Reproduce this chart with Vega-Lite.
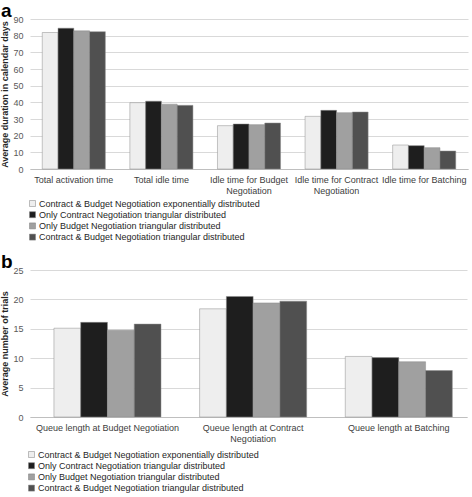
{
  "$schema": "https://vega.github.io/schema/vega-lite/v6.json",
  "padding": {"left": 0, "top": 2, "right": 2, "bottom": 0},
  "background": "white",
  "datasets": {
    "a": [
      {"category": "Total activation time", "scenario": "Contract & Budget Negotiation exponentially distributed", "value": 81.9},
      {"category": "Total activation time", "scenario": "Only Contract Negotiation triangular distributed", "value": 84.5},
      {"category": "Total activation time", "scenario": "Only Budget Negotiation triangular distributed", "value": 82.9},
      {"category": "Total activation time", "scenario": "Contract & Budget Negotiation triangular distributed", "value": 82.4},
      {"category": "Total idle time", "scenario": "Contract & Budget Negotiation exponentially distributed", "value": 39.8},
      {"category": "Total idle time", "scenario": "Only Contract Negotiation triangular distributed", "value": 40.7},
      {"category": "Total idle time", "scenario": "Only Budget Negotiation triangular distributed", "value": 38.9},
      {"category": "Total idle time", "scenario": "Contract & Budget Negotiation triangular distributed", "value": 38.2},
      {"category": "Idle time for Budget Negotiation", "scenario": "Contract & Budget Negotiation exponentially distributed", "value": 26.0},
      {"category": "Idle time for Budget Negotiation", "scenario": "Only Contract Negotiation triangular distributed", "value": 27.0},
      {"category": "Idle time for Budget Negotiation", "scenario": "Only Budget Negotiation triangular distributed", "value": 26.6},
      {"category": "Idle time for Budget Negotiation", "scenario": "Contract & Budget Negotiation triangular distributed", "value": 27.6},
      {"category": "Idle time for Contract Negotiation", "scenario": "Contract & Budget Negotiation exponentially distributed", "value": 31.6},
      {"category": "Idle time for Contract Negotiation", "scenario": "Only Contract Negotiation triangular distributed", "value": 35.2},
      {"category": "Idle time for Contract Negotiation", "scenario": "Only Budget Negotiation triangular distributed", "value": 33.8},
      {"category": "Idle time for Contract Negotiation", "scenario": "Contract & Budget Negotiation triangular distributed", "value": 34.2},
      {"category": "Idle time for Batching", "scenario": "Contract & Budget Negotiation exponentially distributed", "value": 14.4},
      {"category": "Idle time for Batching", "scenario": "Only Contract Negotiation triangular distributed", "value": 14.0},
      {"category": "Idle time for Batching", "scenario": "Only Budget Negotiation triangular distributed", "value": 12.8},
      {"category": "Idle time for Batching", "scenario": "Contract & Budget Negotiation triangular distributed", "value": 10.8}
    ],
    "b": [
      {"category": "Queue length at Budget Negotiation", "scenario": "Contract & Budget Negotiation exponentially distributed", "value": 15.1},
      {"category": "Queue length at Budget Negotiation", "scenario": "Only Contract Negotiation triangular distributed", "value": 16.1},
      {"category": "Queue length at Budget Negotiation", "scenario": "Only Budget Negotiation triangular distributed", "value": 14.75},
      {"category": "Queue length at Budget Negotiation", "scenario": "Contract & Budget Negotiation triangular distributed", "value": 15.8},
      {"category": "Queue length at Contract Negotiation", "scenario": "Contract & Budget Negotiation exponentially distributed", "value": 18.4},
      {"category": "Queue length at Contract Negotiation", "scenario": "Only Contract Negotiation triangular distributed", "value": 20.5},
      {"category": "Queue length at Contract Negotiation", "scenario": "Only Budget Negotiation triangular distributed", "value": 19.4},
      {"category": "Queue length at Contract Negotiation", "scenario": "Contract & Budget Negotiation triangular distributed", "value": 19.7},
      {"category": "Queue length at Batching", "scenario": "Contract & Budget Negotiation exponentially distributed", "value": 10.3},
      {"category": "Queue length at Batching", "scenario": "Only Contract Negotiation triangular distributed", "value": 10.1},
      {"category": "Queue length at Batching", "scenario": "Only Budget Negotiation triangular distributed", "value": 9.4},
      {"category": "Queue length at Batching", "scenario": "Contract & Budget Negotiation triangular distributed", "value": 7.9}
    ]
  },
  "config": {
    "font": "Liberation Sans",
    "view": {"stroke": null},
    "axis": {"ticks": false, "labelFont": "Liberation Sans", "titleFont": "Liberation Sans"},
    "axisX": {"labelAngle": 0, "labelFontSize": 9, "labelColor": "#404040", "domainColor": "#bfbfbf", "labelPadding": 6, "title": null, "labelLineHeight": 11},
    "axisY": {"labelFontSize": 9, "labelColor": "#595959", "domain": false, "gridColor": "#d9d9d9", "labelPadding": 7, "titleFontSize": 9, "titleFontWeight": "bold", "titleColor": "#262626", "titlePadding": 3},
    "legend": {"labelFontSize": 9, "labelColor": "#262626", "symbolType": "square", "symbolSize": 36, "symbolStrokeColor": "#7f7f7f", "symbolStrokeWidth": 0.5, "rowPadding": 1.2, "labelOffset": 2, "labelLimit": 400, "title": null},
    "title": {"fontSize": 19, "fontWeight": "bold", "color": "#000000", "anchor": "start", "frame": "bounds", "offset": -6}
  },
  "spacing": 10,
  "resolve": {
    "scale": {"color": "independent", "x": "independent", "y": "independent", "xOffset": "independent"},
    "axis": {"x": "independent", "y": "independent"},
    "legend": {"color": "independent"}
  },
  "vconcat": [
    {
      "title": {"text": "a"},
      "width": 438,
      "height": 150,
      "data": {"name": "a"},
      "mark": {"type": "bar", "stroke": "#8c8c8c", "strokeWidth": 0.5},
      "encoding": {
        "x": {
          "field": "category", "type": "nominal",
          "sort": ["Total activation time", "Total idle time", "Idle time for Budget Negotiation", "Idle time for Contract Negotiation", "Idle time for Batching"],
          "scale": {"paddingInner": 0.28, "paddingOuter": 0.14},
          "axis": {"labelExpr": "datum.label == 'Idle time for Budget Negotiation' ? ['Idle time for Budget', 'Negotiation'] : datum.label == 'Idle time for Contract Negotiation' ? ['Idle time for Contract', 'Negotiation'] : datum.label"}
        },
        "xOffset": {
          "field": "scenario", "type": "nominal",
          "sort": ["Contract & Budget Negotiation exponentially distributed", "Only Contract Negotiation triangular distributed", "Only Budget Negotiation triangular distributed", "Contract & Budget Negotiation triangular distributed"],
          "scale": {"paddingInner": 0, "paddingOuter": 0}
        },
        "y": {
          "field": "value", "type": "quantitative",
          "title": "Average duration in calendar days",
          "scale": {"domain": [0, 90]},
          "axis": {"values": [0, 10, 20, 30, 40, 50, 60, 70, 80, 90]}
        },
        "color": {
          "field": "scenario", "type": "nominal",
          "scale": {
            "domain": ["Contract & Budget Negotiation exponentially distributed", "Only Contract Negotiation triangular distributed", "Only Budget Negotiation triangular distributed", "Contract & Budget Negotiation triangular distributed"],
            "range": ["#eeeeee", "#1e1e1e", "#a0a0a0", "#505050"]
          },
          "legend": {"orient": "none", "legendX": -2, "legendY": 180, "direction": "vertical"}
        }
      }
    },
    {
      "title": {"text": "b"},
      "width": 437,
      "height": 147,
      "data": {"name": "b"},
      "mark": {"type": "bar", "stroke": "#8c8c8c", "strokeWidth": 0.5},
      "encoding": {
        "x": {
          "field": "category", "type": "nominal",
          "sort": ["Queue length at Budget Negotiation", "Queue length at Contract Negotiation", "Queue length at Batching"],
          "scale": {"paddingInner": 0.265, "paddingOuter": 0.1325, "align": 0.62},
          "axis": {"labelExpr": "datum.label == 'Queue length at Contract Negotiation' ? ['Queue length at Contract', 'Negotiation'] : datum.label"}
        },
        "xOffset": {
          "field": "scenario", "type": "nominal",
          "sort": ["Contract & Budget Negotiation exponentially distributed", "Only Contract Negotiation triangular distributed", "Only Budget Negotiation triangular distributed", "Contract & Budget Negotiation triangular distributed"],
          "scale": {"paddingInner": 0, "paddingOuter": 0}
        },
        "y": {
          "field": "value", "type": "quantitative",
          "title": "Average number of trials",
          "scale": {"domain": [0, 25]},
          "axis": {"values": [0, 5, 10, 15, 20, 25]}
        },
        "color": {
          "field": "scenario", "type": "nominal",
          "scale": {
            "domain": ["Contract & Budget Negotiation exponentially distributed", "Only Contract Negotiation triangular distributed", "Only Budget Negotiation triangular distributed", "Contract & Budget Negotiation triangular distributed"],
            "range": ["#eeeeee", "#1e1e1e", "#a0a0a0", "#505050"]
          },
          "legend": {"orient": "none", "legendX": -3, "legendY": 180, "direction": "vertical"}
        }
      }
    }
  ]
}
